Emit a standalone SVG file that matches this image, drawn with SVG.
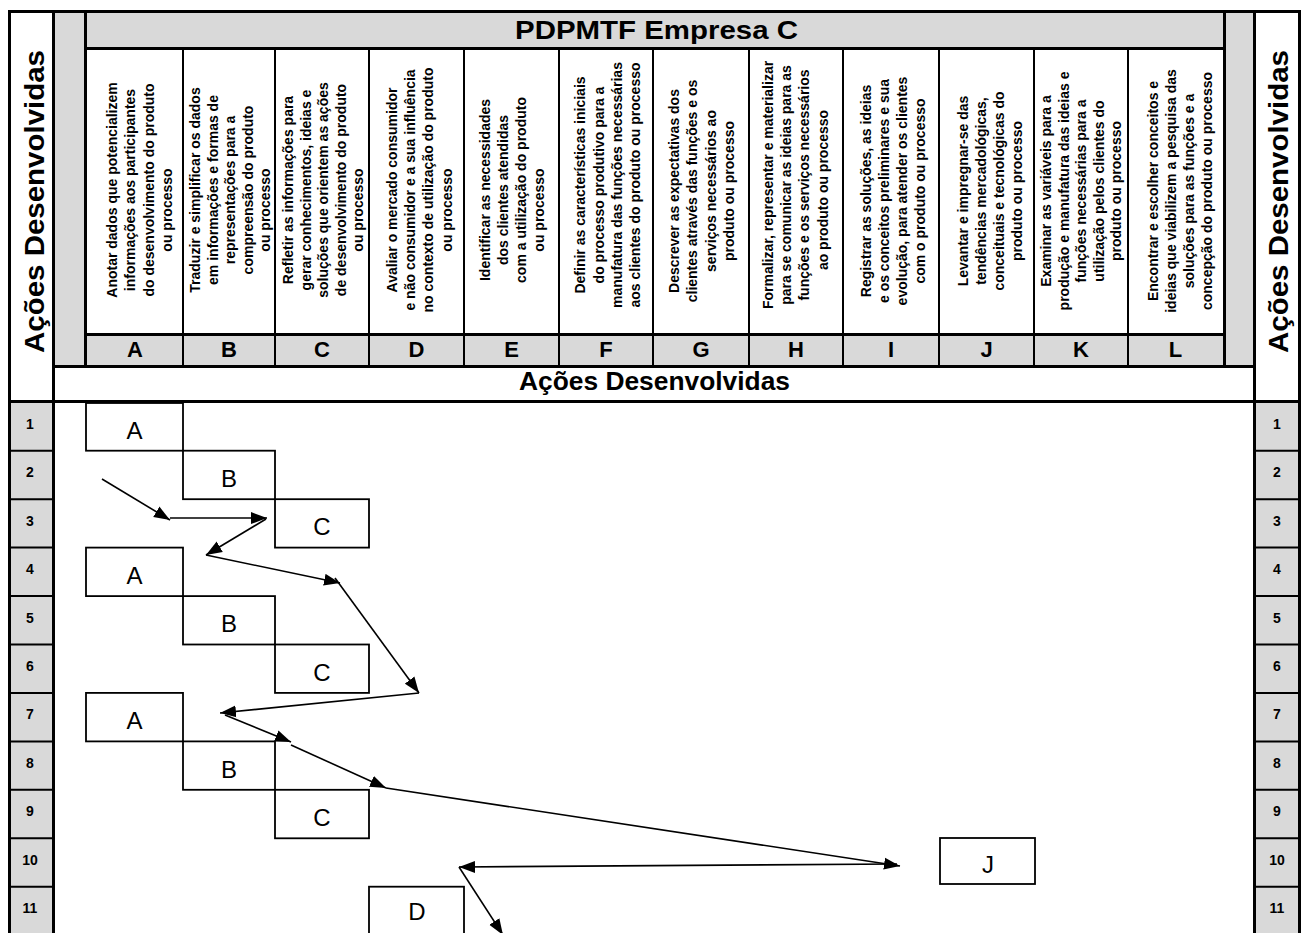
<svg xmlns="http://www.w3.org/2000/svg" width="1309" height="933" viewBox="0 0 1309 933">
  <defs>
    <style>
      text { font-family: "Liberation Sans", Arial, sans-serif; fill: #000; }
      .grey { fill: #d9d9d9; }
      .rule { stroke: #000; stroke-width: 3; fill: none; }
      .div { stroke: #000; stroke-width: 2; fill: none; }
      .ttl { font-size: 26px; font-weight: bold; text-anchor: middle; }
      .side { font-size: 28px; font-weight: bold; text-anchor: middle; }
      .ct { font-size: 14px; font-weight: bold; text-anchor: middle; }
      .col { font-size: 22px; font-weight: bold; text-anchor: middle; }
      .num { font-size: 14px; font-weight: bold; text-anchor: middle; }
      .box rect { fill: #fff; stroke: #000; stroke-width: 1.8; }
      .box text { font-size: 24px; text-anchor: middle; }
      .conn path { stroke: #000; stroke-width: 1.6; fill: none; marker-end: url(#ah); }
    </style>
    <marker id="ah" markerUnits="userSpaceOnUse" markerWidth="17" markerHeight="13" refX="16" refY="6.5" orient="auto">
      <path d="M0,0.5 L16,6.5 L0,12.5 z" fill="#000"/>
    </marker>
  </defs>

  <rect width="1309" height="933" fill="#fff"/>

  <!-- frame: grey bands and heavy rules -->
  <g id="frame">
    <rect class="grey" x="55" y="13" width="29" height="353"/>
    <rect class="grey" x="1226" y="13" width="27" height="353"/>
    <rect class="grey" x="87" y="13" width="1136" height="34"/>
    <rect class="grey" x="87" y="336" width="1136" height="29"/>
    <rect class="grey" x="11" y="403" width="41" height="530"/>
    <rect class="grey" x="1256" y="403" width="42" height="530"/>

    <path class="rule" d="M8,11.5 H1301 M9.5,10 V933 M1299.5,10 V933 M53.5,10 V933 M1254.5,10 V933
      M85.5,10 V368 M1224.5,10 V368 M84,48.5 H1226 M84,334.5 H1226 M55,366.5 H1253 M8,401.5 H1301"/>

    <!-- column dividers -->
    <path class="div" d="M183,50 V365 M275,50 V365 M369,50 V365 M464,50 V365 M559,50 V365 M653,50 V365
      M749,50 V365 M843,50 V365 M939,50 V365 M1034,50 V365 M1128,50 V365"/>

    <!-- row separators in the numbering columns -->
    <path class="div" d="M11,450.7 H52 M11,499.2 H52 M11,547.6 H52 M11,596.1 H52 M11,644.5 H52 M11,692.9 H52
      M11,741.4 H52 M11,789.8 H52 M11,838.3 H52 M11,886.7 H52
      M1256,450.7 H1298 M1256,499.2 H1298 M1256,547.6 H1298 M1256,596.1 H1298 M1256,644.5 H1298 M1256,692.9 H1298
      M1256,741.4 H1298 M1256,789.8 H1298 M1256,838.3 H1298 M1256,886.7 H1298"/>

    <text class="ttl" x="656.5" y="39" textLength="283" lengthAdjust="spacingAndGlyphs">PDPMTF Empresa C</text>
    <text class="ttl" x="654.5" y="390" font-size="24" textLength="271" lengthAdjust="spacingAndGlyphs">Ações Desenvolvidas</text>
    <text class="side" transform="translate(44,201.5) rotate(-90)" textLength="303" lengthAdjust="spacingAndGlyphs">Ações Desenvolvidas</text>
    <text class="side" transform="translate(1288,201.5) rotate(-90)" textLength="303" lengthAdjust="spacingAndGlyphs">Ações Desenvolvidas</text>
  </g>

  <!-- row numbers -->
  <g id="rows">
    <text class="num" x="30" y="428.8">1</text><text class="num" x="1277" y="428.8">1</text>
    <text class="num" x="30" y="477.2">2</text><text class="num" x="1277" y="477.2">2</text>
    <text class="num" x="30" y="525.7">3</text><text class="num" x="1277" y="525.7">3</text>
    <text class="num" x="30" y="574.1">4</text><text class="num" x="1277" y="574.1">4</text>
    <text class="num" x="30" y="622.6">5</text><text class="num" x="1277" y="622.6">5</text>
    <text class="num" x="30" y="671">6</text><text class="num" x="1277" y="671">6</text>
    <text class="num" x="30" y="719.4">7</text><text class="num" x="1277" y="719.4">7</text>
    <text class="num" x="30" y="767.9">8</text><text class="num" x="1277" y="767.9">8</text>
    <text class="num" x="30" y="816.3">9</text><text class="num" x="1277" y="816.3">9</text>
    <text class="num" x="30" y="864.8">10</text><text class="num" x="1277" y="864.8">10</text>
    <text class="num" x="30" y="913.2">11</text><text class="num" x="1277" y="913.2">11</text>
  </g>

  <!-- action columns A..L -->
  <g id="colA">
    <text class="ct" transform="translate(117.1,190) rotate(-90)">Anotar dados que potencializem</text>
    <text class="ct" transform="translate(135.3,190) rotate(-90)">informações aos participantes</text>
    <text class="ct" transform="translate(153.5,190) rotate(-90)">do desenvolvimento do produto</text>
    <text class="ct" transform="translate(171.7,210) rotate(-90)">ou processo</text>
    <text class="col" x="135" y="357">A</text>
  </g>
  <g id="colB">
    <text class="ct" transform="translate(200,190) rotate(-90)">Traduzir e simplificar os dados</text>
    <text class="ct" transform="translate(217.5,190) rotate(-90)">em informações e formas de</text>
    <text class="ct" transform="translate(235,190) rotate(-90)">representações para a</text>
    <text class="ct" transform="translate(252.5,190) rotate(-90)">compreensão do produto</text>
    <text class="ct" transform="translate(270,210) rotate(-90)">ou processo</text>
    <text class="col" x="229" y="357">B</text>
  </g>
  <g id="colC">
    <text class="ct" transform="translate(293,190) rotate(-90)">Refletir as informações para</text>
    <text class="ct" transform="translate(310.5,190) rotate(-90)">gerar conhecimentos, ideias e</text>
    <text class="ct" transform="translate(328,190) rotate(-90)">soluções que orientem as ações</text>
    <text class="ct" transform="translate(345.5,190) rotate(-90)">de desenvolvimento do produto</text>
    <text class="ct" transform="translate(363,210) rotate(-90)">ou processo</text>
    <text class="col" x="322" y="357">C</text>
  </g>
  <g id="colD">
    <text class="ct" transform="translate(396.9,190) rotate(-90)">Avaliar o mercado consumidor</text>
    <text class="ct" transform="translate(415.1,190) rotate(-90)">e não consumidor e a sua influência</text>
    <text class="ct" transform="translate(433.3,190) rotate(-90)">no contexto de utilização do produto</text>
    <text class="ct" transform="translate(451.5,210) rotate(-90)">ou processo</text>
    <text class="col" x="416.5" y="357">D</text>
  </g>
  <g id="colE">
    <text class="ct" transform="translate(489.8,190) rotate(-90)">Identificar as necessidades</text>
    <text class="ct" transform="translate(508,190) rotate(-90)">dos clientes atendidas</text>
    <text class="ct" transform="translate(526.2,190) rotate(-90)">com a utilização do produto</text>
    <text class="ct" transform="translate(544.4,210) rotate(-90)">ou processo</text>
    <text class="col" x="511.5" y="357">E</text>
  </g>
  <g id="colF">
    <text class="ct" transform="translate(585.4,185) rotate(-90)">Definir as características iniciais</text>
    <text class="ct" transform="translate(603.6,185) rotate(-90)">do processo produtivo para a</text>
    <text class="ct" transform="translate(621.8,185) rotate(-90)">manufatura das funções necessárias</text>
    <text class="ct" transform="translate(640,185) rotate(-90)">aos clientes do produto ou processo</text>
    <text class="col" x="606" y="357">F</text>
  </g>
  <g id="colG">
    <text class="ct" transform="translate(679.1,191) rotate(-90)">Descrever as expectativas dos</text>
    <text class="ct" transform="translate(697.3,191) rotate(-90)">clientes através das funções e os</text>
    <text class="ct" transform="translate(715.5,191) rotate(-90)">serviços necessários ao</text>
    <text class="ct" transform="translate(733.7,191) rotate(-90)">produto ou processo</text>
    <text class="col" x="701" y="357">G</text>
  </g>
  <g id="colH">
    <text class="ct" transform="translate(772.9,185) rotate(-90)">Formalizar, representar e materializar</text>
    <text class="ct" transform="translate(791.1,185) rotate(-90)">para se comunicar as ideias para as</text>
    <text class="ct" transform="translate(809.3,185) rotate(-90)">funções e os serviços necessários</text>
    <text class="ct" transform="translate(827.5,190) rotate(-90)">ao produto ou processo</text>
    <text class="col" x="796" y="357">H</text>
  </g>
  <g id="colI">
    <text class="ct" transform="translate(870.8,191) rotate(-90)">Registrar as soluções, as ideias</text>
    <text class="ct" transform="translate(889,191) rotate(-90)">e os conceitos preliminares e sua</text>
    <text class="ct" transform="translate(907.2,191) rotate(-90)">evolução, para atender os clientes</text>
    <text class="ct" transform="translate(925.4,191) rotate(-90)">com o produto ou processo</text>
    <text class="col" x="891" y="357">I</text>
  </g>
  <g id="colJ">
    <text class="ct" transform="translate(967.6,191) rotate(-90)">Levantar e impregnar-se das</text>
    <text class="ct" transform="translate(985.8,191) rotate(-90)">tendências mercadológicas,</text>
    <text class="ct" transform="translate(1004,191) rotate(-90)">conceituais e tecnológicas do</text>
    <text class="ct" transform="translate(1022.2,191) rotate(-90)">produto ou processo</text>
    <text class="col" x="986.5" y="357">J</text>
  </g>
  <g id="colK">
    <text class="ct" transform="translate(1051,191) rotate(-90)">Examinar as variáveis para a</text>
    <text class="ct" transform="translate(1068.5,191) rotate(-90)">produção e manufatura das ideias e</text>
    <text class="ct" transform="translate(1086,191) rotate(-90)">funções necessárias para a</text>
    <text class="ct" transform="translate(1103.5,191) rotate(-90)">utilização pelos clientes do</text>
    <text class="ct" transform="translate(1121,191) rotate(-90)">produto ou processo</text>
    <text class="col" x="1081" y="357">K</text>
  </g>
  <g id="colL">
    <text class="ct" transform="translate(1157.8,191) rotate(-90)">Encontrar e escolher conceitos e</text>
    <text class="ct" transform="translate(1176,191) rotate(-90)">ideias que viabilizem a pesquisa das</text>
    <text class="ct" transform="translate(1194.2,191) rotate(-90)">soluções para as funções e a</text>
    <text class="ct" transform="translate(1212.4,191) rotate(-90)">concepção do produto ou processo</text>
    <text class="col" x="1175.5" y="357">L</text>
  </g>

  <!-- action boxes placed on the row grid -->
  <g id="a1" class="box"><rect x="86" y="403" width="97" height="47.7"/><text x="134.5" y="439">A</text></g>
  <g id="b2" class="box"><rect x="183" y="450.7" width="92" height="48.5"/><text x="229" y="487">B</text></g>
  <g id="c3" class="box"><rect x="275" y="499.2" width="94" height="48.4"/><text x="322" y="535.4">C</text></g>
  <g id="a4" class="box"><rect x="86" y="547.6" width="97" height="48.5"/><text x="134.5" y="583.9">A</text></g>
  <g id="b5" class="box"><rect x="183" y="596.1" width="92" height="48.4"/><text x="229" y="632.3">B</text></g>
  <g id="c6" class="box"><rect x="275" y="644.5" width="94" height="48.4"/><text x="322" y="680.7">C</text></g>
  <g id="a7" class="box"><rect x="86" y="692.9" width="97" height="48.5"/><text x="134.5" y="729.2">A</text></g>
  <g id="b8" class="box"><rect x="183" y="741.4" width="92" height="48.4"/><text x="229" y="777.6">B</text></g>
  <g id="c9" class="box"><rect x="275" y="789.8" width="94" height="48.5"/><text x="322" y="826.1">C</text></g>
  <g id="j10" class="box"><rect x="940" y="838" width="95" height="46"/><text x="988" y="873">J</text></g>
  <g id="d11" class="box"><rect x="369" y="886.7" width="95" height="60"/><text x="417" y="920">D</text></g>

  <!-- flow between actions -->
  <g id="connectors" class="conn">
    <path d="M102,479 L170,520"/>
    <path d="M170,518 L267,518"/>
    <path d="M266,519 L206,555"/>
    <path d="M206,555 L340,583"/>
    <path d="M335,578 L419,693"/>
    <path d="M419,693 L220,713"/>
    <path d="M225,715 L291,742"/>
    <path d="M291,745 L386,788"/>
    <path d="M386,788 L900,866"/>
    <path d="M897,864 L459,867"/>
    <path d="M459,867 L503,935"/>
  </g>
</svg>
